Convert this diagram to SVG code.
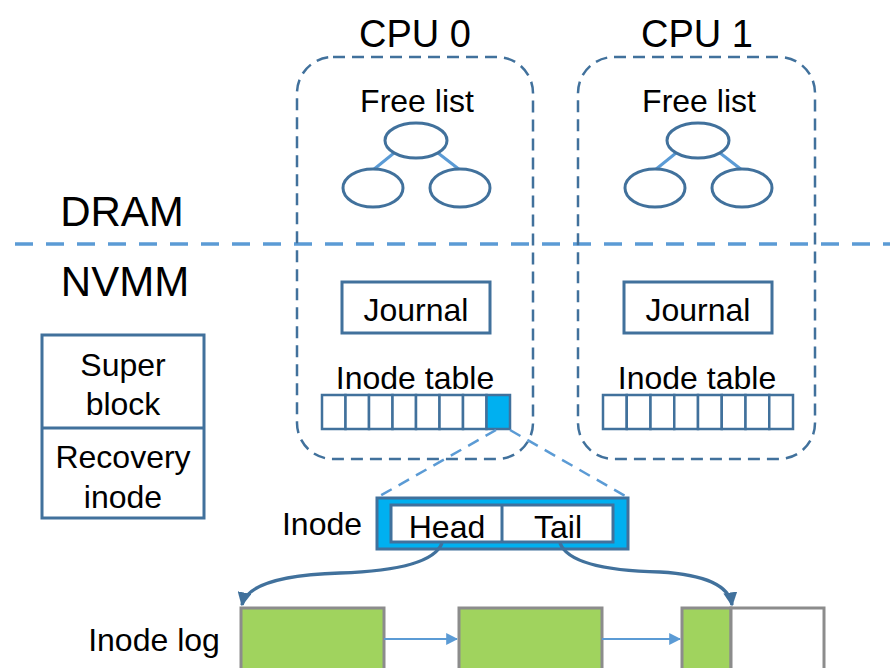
<svg xmlns="http://www.w3.org/2000/svg" width="890" height="668" viewBox="0 0 890 668">
  <defs>
    <style>
      text { font-family: "Liberation Sans", Arial, sans-serif; fill: #000; text-anchor: middle; }
      .big { font-size: 42px; }
      .cpuname { font-size: 38px; }
      .mid { font-size: 32px; }
      .cpu { fill: none; stroke: #41719c; stroke-width: 2.5; stroke-dasharray: 12 7; }
      .box { fill: #fff; stroke: #41719c; stroke-width: 3; }
      .node { fill: #fff; stroke: #41719c; stroke-width: 3; }
      .edge { stroke: #5b9bd5; stroke-width: 3; }
      .cell { fill: #fff; stroke: #41719c; stroke-width: 2.5; }
      .log { fill: #a0d35e; stroke: #8c8c8c; stroke-width: 3; }
      .guide { fill: none; stroke: #5b9bd5; stroke-width: 2.5; stroke-dasharray: 12 8; }
      .ptr { fill: none; stroke: #41719c; stroke-width: 3.5; }
      .next { fill: none; stroke: #5b9bd5; stroke-width: 2; }
    </style>
    <marker id="ptrHead" viewBox="0 0 10 10" refX="9" refY="5" markerWidth="4" markerHeight="4" orient="auto" markerUnits="strokeWidth">
      <path d="M0,0 L10,5 L0,10 z" fill="#41719c"/>
    </marker>
    <marker id="nextHead" viewBox="0 0 10 10" refX="9" refY="5" markerWidth="6" markerHeight="6" orient="auto" markerUnits="strokeWidth">
      <path d="M0,0 L10,5 L0,10 z" fill="#5b9bd5"/>
    </marker>
    <g id="tree">
      <line class="edge" x1="394" y1="153" x2="373" y2="170"/>
      <line class="edge" x1="438" y1="153" x2="460" y2="170"/>
      <ellipse class="node" cx="416" cy="140.5" rx="31" ry="17.5"/>
      <ellipse class="node" cx="373" cy="188" rx="30" ry="19"/>
      <ellipse class="node" cx="460" cy="188" rx="30" ry="19"/>
    </g>
  </defs>

  <!-- region labels and DRAM / NVMM split -->
  <g id="regions">
    <line x1="15" y1="244" x2="890" y2="244" stroke="#5b9bd5" stroke-width="3.5" stroke-dasharray="18 13"/>
    <text class="big" x="122" y="226">DRAM</text>
    <text class="big" x="125" y="296">NVMM</text>
  </g>

  <!-- per-CPU areas -->
  <g id="cpu0">
    <text class="cpuname" x="415" y="47">CPU 0</text>
    <rect class="cpu" x="297" y="57" width="236" height="402" rx="36"/>
    <text class="mid" x="417" y="112">Free list</text>
    <use href="#tree"/>
    <rect class="box" x="342" y="282" width="148" height="51"/>
    <text class="mid" x="416" y="321">Journal</text>
    <text class="mid" x="415" y="389">Inode table</text>
    <g id="cpu0-cells">
      <rect class="cell" x="322" y="395" width="23.5" height="34"/>
      <rect class="cell" x="345.5" y="395" width="23.5" height="34"/>
      <rect class="cell" x="369" y="395" width="23.5" height="34"/>
      <rect class="cell" x="392.5" y="395" width="23.5" height="34"/>
      <rect class="cell" x="416" y="395" width="23.5" height="34"/>
      <rect class="cell" x="439.5" y="395" width="23.5" height="34"/>
      <rect class="cell" x="463" y="395" width="23.5" height="34"/>
      <rect class="cell" x="486.5" y="395" width="23.5" height="34" style="fill:#00b0f0"/>
    </g>
  </g>

  <g id="cpu1">
    <text class="cpuname" x="697" y="47">CPU 1</text>
    <rect class="cpu" x="578" y="57" width="237" height="402" rx="36"/>
    <text class="mid" x="699" y="112">Free list</text>
    <use href="#tree" x="282"/>
    <rect class="box" x="624" y="282" width="148" height="51"/>
    <text class="mid" x="698" y="321">Journal</text>
    <text class="mid" x="697" y="389">Inode table</text>
    <g id="cpu1-cells">
      <rect class="cell" x="603" y="395" width="23.75" height="34"/>
      <rect class="cell" x="626.75" y="395" width="23.75" height="34"/>
      <rect class="cell" x="650.5" y="395" width="23.75" height="34"/>
      <rect class="cell" x="674.25" y="395" width="23.75" height="34"/>
      <rect class="cell" x="698" y="395" width="23.75" height="34"/>
      <rect class="cell" x="721.75" y="395" width="23.75" height="34"/>
      <rect class="cell" x="745.5" y="395" width="23.75" height="34"/>
      <rect class="cell" x="769.25" y="395" width="23.75" height="34"/>
    </g>
  </g>

  <!-- super block and recovery inode -->
  <g id="superblock">
    <rect class="box" x="42" y="335" width="162" height="183"/>
    <line x1="42" y1="428" x2="204" y2="428" stroke="#41719c" stroke-width="3"/>
    <text class="mid" x="123" y="376">Super</text>
    <text class="mid" x="123" y="415">block</text>
    <text class="mid" x="123" y="468">Recovery</text>
    <text class="mid" x="123" y="508">inode</text>
  </g>

  <!-- expanded inode -->
  <g id="inode">
    <text class="mid" x="322" y="535">Inode</text>
    <rect x="377" y="498" width="251" height="51" fill="#00b0f0" stroke="#41719c" stroke-width="3"/>
    <rect x="391" y="505" width="222" height="37" fill="#fff" stroke="#41719c" stroke-width="3"/>
    <line x1="502" y1="505" x2="502" y2="542" stroke="#41719c" stroke-width="3"/>
    <text class="mid" x="447" y="538">Head</text>
    <text class="mid" x="558" y="538">Tail</text>
  </g>

  <!-- inode log pages -->
  <g id="inode-log">
    <text class="mid" x="154" y="651">Inode log</text>
    <rect class="log" x="241" y="608" width="143" height="64"/>
    <rect class="log" x="459" y="608" width="143" height="64"/>
    <rect class="log" x="682" y="608" width="49" height="64"/>
    <rect x="731" y="608" width="93" height="64" fill="#fff" stroke="#8c8c8c" stroke-width="3"/>
  </g>

  <!-- connectors -->
  <g id="connectors">
    <line class="guide" x1="496" y1="430" x2="378" y2="497"/>
    <line class="guide" x1="510" y1="430" x2="627" y2="497"/>
    <path class="ptr" d="M442,543 Q432,570 340,573 Q248,576 242,605" marker-end="url(#ptrHead)"/>
    <path class="ptr" d="M560,543 Q570,570 660,572 Q728,576 732,605" marker-end="url(#ptrHead)"/>
    <line class="next" x1="384" y1="639" x2="457" y2="639" marker-end="url(#nextHead)"/>
    <line class="next" x1="602" y1="639" x2="680" y2="639" marker-end="url(#nextHead)"/>
  </g>
</svg>
